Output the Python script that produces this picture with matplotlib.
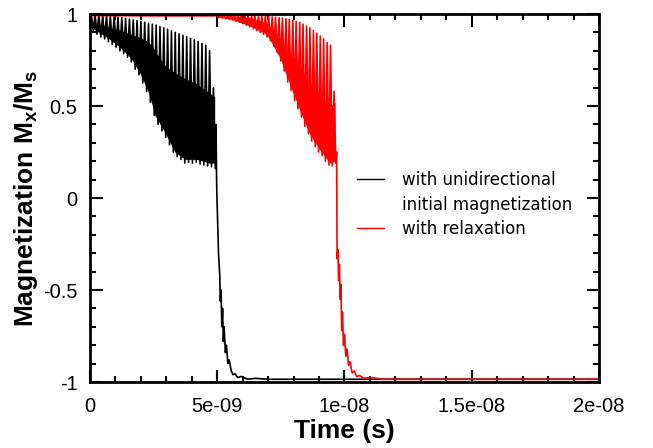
import numpy as np
import matplotlib
matplotlib.use("Agg")
import matplotlib.pyplot as plt
from matplotlib.lines import Line2D
from matplotlib.ticker import MultipleLocator

# ---- data (time in ns, magnetization Mx/Ms) ----
# black: unidirectional initial magnetization
black_start_t = [0.0]
black_start_v = [0.95]
black_spike_t = [0.05, 0.20, 0.35, 0.50, 0.65, 0.80, 0.95, 1.10, 1.25, 1.40, 1.55,
                 1.70, 1.85, 2.00, 2.15, 2.30, 2.45, 2.60, 2.75, 2.90, 3.05, 3.20,
                 3.35, 3.50, 3.65, 3.80, 3.95, 4.10, 4.25, 4.40, 4.55, 4.70, 4.85]
black_spike_top = [1.0, 1.0, 0.998, 0.995, 0.993, 0.99, 0.987, 0.983, 0.98, 0.976, 0.972,
                   0.968, 0.964, 0.96, 0.955, 0.95, 0.945, 0.94, 0.932, 0.925, 0.917, 0.908,
                   0.90, 0.892, 0.884, 0.876, 0.868, 0.86, 0.85, 0.84, 0.83, 0.80, 0.60]
black_low_t = [0.125, 0.275, 0.425, 0.575, 0.725, 0.875, 1.025, 1.175, 1.325, 1.475, 1.625,
               1.775, 1.925, 2.075, 2.225, 2.375, 2.525, 2.675, 2.825, 2.975, 3.125, 3.275,
               3.425, 3.575, 3.725, 3.875, 4.025, 4.175, 4.325, 4.475, 4.625, 4.775, 4.925]
black_low_v = [0.91, 0.89, 0.875, 0.865, 0.85, 0.835, 0.82, 0.80, 0.785, 0.765, 0.74,
               0.70, 0.67, 0.625, 0.58, 0.52, 0.45, 0.40, 0.365, 0.33, 0.29, 0.25,
               0.225, 0.21, 0.19, 0.195, 0.19, 0.195, 0.185, 0.18, 0.175, 0.17, 0.16]
black_tail_t = [4.95, 4.98, 5.05, 5.10, 5.12, 5.15, 5.18, 5.21, 5.24, 5.27, 5.32, 5.36,
                5.42, 5.47, 5.55, 5.62, 5.70, 5.80, 5.95, 6.20, 6.50, 7.00, 20.0]
black_tail_v = [0.40, 0.05, -0.30, -0.42, -0.56, -0.50, -0.70, -0.60, -0.78, -0.70, -0.84, -0.80,
                -0.90, -0.88, -0.94, -0.96, -0.955, -0.975, -0.97, -0.985, -0.98, -0.985, -0.985]
black_band_t = [0.0, 0.71, 1.22, 1.61, 2.0, 2.28, 2.48, 2.55, 2.95, 3.34, 3.73, 4.2, 4.7, 4.9]
black_band_lo = [0.93, 0.87, 0.815, 0.76, 0.67, 0.58, 0.49, 0.45, 0.355, 0.25, 0.21, 0.21, 0.19, 0.19]
black_band_hi = [0.96, 0.93, 0.91, 0.89, 0.87, 0.85, 0.82, 0.80, 0.72, 0.68, 0.65, 0.62, 0.57, 0.55]

# red: with relaxation
red_start_t = [0.0, 2.5, 4.9]
red_start_v = [0.992, 0.99, 0.99]
red_spike_t = [5.00, 5.13, 5.27, 5.40, 5.54, 5.67, 5.81, 5.94, 6.08, 6.21, 6.35, 6.48,
               6.62, 6.75, 6.89, 7.02, 7.16, 7.29, 7.43, 7.56, 7.70, 7.83, 7.97, 8.10,
               8.24, 8.37, 8.51, 8.64, 8.78, 8.91, 9.05, 9.18, 9.32, 9.45, 9.59]
red_spike_top = [0.995, 0.995, 0.995, 0.995, 0.995, 0.995, 0.995, 0.995, 0.995, 0.995, 0.993, 0.993,
                 0.99, 0.99, 0.99, 0.988, 0.985, 0.983, 0.98, 0.978, 0.975, 0.97, 0.965, 0.96,
                 0.955, 0.945, 0.935, 0.925, 0.91, 0.895, 0.88, 0.865, 0.845, 0.83, 0.58]
red_low_t = [5.07, 5.20, 5.34, 5.47, 5.61, 5.74, 5.88, 6.01, 6.15, 6.28, 6.42, 6.55,
             6.69, 6.82, 6.96, 7.09, 7.23, 7.36, 7.50, 7.63, 7.77, 7.90, 8.04, 8.17,
             8.31, 8.44, 8.58, 8.71, 8.85, 8.98, 9.12, 9.25, 9.39, 9.52, 9.66]
red_low_v = [0.98, 0.978, 0.975, 0.972, 0.967, 0.96, 0.955, 0.948, 0.94, 0.93, 0.92, 0.91,
             0.90, 0.89, 0.875, 0.855, 0.825, 0.79, 0.745, 0.69, 0.63, 0.585, 0.53, 0.485,
             0.44, 0.39, 0.35, 0.31, 0.28, 0.25, 0.23, 0.20, 0.18, 0.175, 0.19]
red_tail_t = [9.69, 9.71, 9.74, 9.77, 9.80, 9.83, 9.86, 9.89, 9.92, 9.96, 10.0, 10.05,
              10.10, 10.16, 10.22, 10.30, 10.38, 10.48, 10.60, 10.75, 11.0, 11.5, 20.0]
red_tail_v = [0.25, -0.33, -0.28, -0.45, -0.36, -0.55, -0.47, -0.72, -0.62, -0.80, -0.74, -0.86,
              -0.82, -0.91, -0.89, -0.95, -0.94, -0.97, -0.965, -0.98, -0.975, -0.985, -0.985]
red_band_t = [5.0, 5.6, 6.29, 6.95, 7.47, 7.86, 8.25, 8.64, 9.04, 9.43, 9.63]
red_band_lo = [0.985, 0.97, 0.935, 0.89, 0.76, 0.615, 0.475, 0.345, 0.26, 0.19, 0.20]
red_band_hi = [0.995, 0.99, 0.98, 0.95, 0.86, 0.78, 0.70, 0.62, 0.56, 0.50, 0.52]

legend_labels = ["with unidirectional", "initial magnetization", "with relaxation"]
x_ticks = [0, 5e-9, 1e-8, 1.5e-8, 2e-8]
x_tick_labels = ["0", "5e-09", "1e-08", "1.5e-08", "2e-08"]
y_ticks = [-1, -0.5, 0, 0.5, 1]
y_tick_labels = ["-1", "-0.5", "0", "0.5", "1"]


def build_curve(start_t, start_v, spike_t, spike_top, low_t, low_v, tail_t, tail_v):
    # interleave the read spike tops and lows into one polyline
    zz_t = np.column_stack([spike_t, low_t]).ravel()
    zz_v = np.column_stack([spike_top, low_v]).ravel()
    t = np.concatenate([start_t, zz_t, tail_t]) * 1e-9
    v = np.concatenate([start_v, zz_v, tail_v])
    return t, v


plt.rcParams["font.family"] = "Liberation Sans"
plt.rcParams["mathtext.fontset"] = "custom"
plt.rcParams["mathtext.rm"] = "Liberation Sans"
plt.rcParams["mathtext.bf"] = "Liberation Sans:bold"

fig = plt.figure(figsize=(6.53, 4.48), dpi=100)
ax = fig.add_axes([0.1378, 0.1473, 0.7795, 0.8214])

bt, bv = build_curve(black_start_t, black_start_v, black_spike_t, black_spike_top,
                     black_low_t, black_low_v, black_tail_t, black_tail_v)
ax.fill_between(np.array(black_band_t) * 1e-9, black_band_lo, black_band_hi,
                color="black", lw=0)
ax.plot(bt, bv, color="black", lw=1.2)

rt, rv = build_curve(red_start_t, red_start_v, red_spike_t, red_spike_top,
                     red_low_t, red_low_v, red_tail_t, red_tail_v)
ax.fill_between(np.array(red_band_t) * 1e-9, red_band_lo, red_band_hi,
                color="red", lw=0)
ax.plot(rt, rv, color="red", lw=1.2)

ax.set_xlim(0, 2e-8)
ax.set_ylim(-1, 1)
ax.set_xticks(x_ticks)
ax.set_xticklabels(x_tick_labels)
ax.set_yticks(y_ticks)
ax.set_yticklabels(y_tick_labels)
ax.xaxis.set_minor_locator(MultipleLocator(1e-9))
ax.yaxis.set_minor_locator(MultipleLocator(0.1))
ax.tick_params(which="both", direction="in", top=True, right=True, width=1.5, labelsize=14.5)
ax.tick_params(which="major", length=9)
ax.tick_params(which="minor", length=4.5)
ax.tick_params(axis="x", pad=11)
ax.tick_params(axis="y", pad=9)
for s in ax.spines.values():
    s.set_linewidth(2)

ax.set_xlabel("Time (s)", fontsize=19, fontweight="bold", labelpad=2)
ax.set_ylabel(r"Magnetization M$_\mathbf{x}$/M$_\mathbf{s}$", fontsize=19,
              fontweight="bold", labelpad=2)

handles = [Line2D([], [], color="black", lw=1),
           Line2D([], [], color="none"),
           Line2D([], [], color="red", lw=1)]
ax.legend(handles, legend_labels, loc="upper left", frameon=False,
          bbox_to_anchor=(357 / 653, 1 - 171 / 448), bbox_transform=fig.transFigure,
          borderpad=0, borderaxespad=0, handlelength=1.65, handletextpad=1.08,
          labelspacing=0.39, prop={"family": "DejaVu Sans", "size": 12})

fig.savefig("out.png", dpi=100)
